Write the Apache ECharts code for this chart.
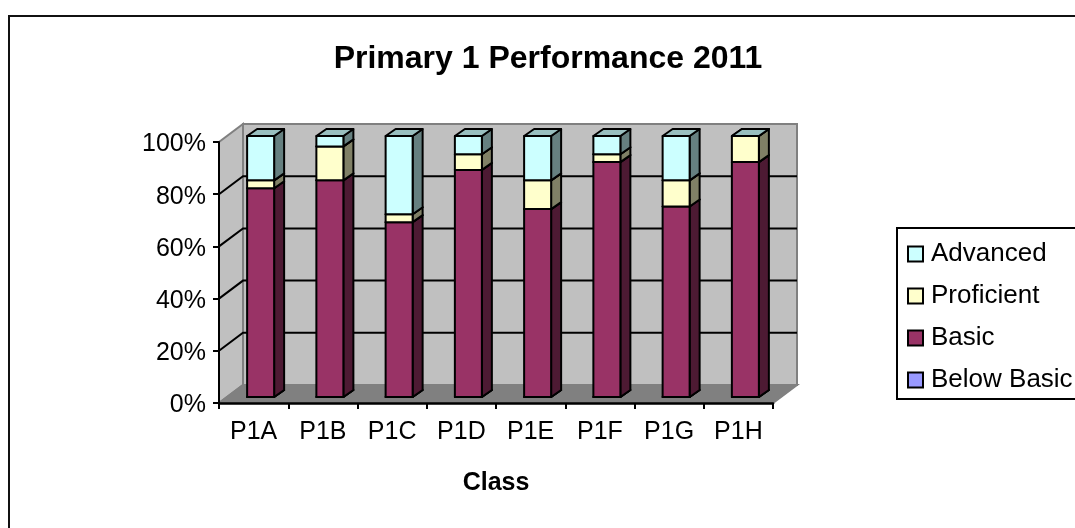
<!DOCTYPE html>
<html>
<head>
<meta charset="utf-8">
<style>html,body{margin:0;padding:0;background:#fff}#c{width:1075px;height:528px}</style>
<script src="https://cdn.jsdelivr.net/npm/echarts@6/dist/echarts.min.js"></script>
</head>
<body>
<div id="c"></div>
<script>
var categories = ['P1A','P1B','P1C','P1D','P1E','P1F','P1G','P1H'];
var belowBasic = [0,0,0,0,0,0,0,0];
var basic      = [80,83,67,87,72,90,73,90];
var proficient = [3,13,3,6,11,3,10,10];
var advanced   = [17,4,30,7,17,7,17,0];
var gridTicks  = [20,40,60,80];
var FONT = '"Liberation Sans", Arial, sans-serif';
var WALL = [24,-18], FRONT = [7,-6], DEPTH = [10,-7], BAR_RATIO = 0.39;

var chart = echarts.init(document.getElementById('c'), null, {renderer:'canvas'});

function shade(a, b, c, d, fill) {
  return {type:'polygon', shape:{points:[a,b,c,d]},
    style:{fill:fill, stroke:'#000', lineWidth:2, lineJoin:'round'}};
}
function stackRows(values, below) {
  return values.map(function(v,i){
    var base = 0;
    below.forEach(function(s){ base += s[i]; });
    return [i, base, base + v];
  });
}
function barRenderer(front, side, top) {
  return function(params, api) {
    var i = api.value(0);
    var p0 = api.coord([i, api.value(1)]);
    var p1 = api.coord([i, api.value(2)]);
    var w = api.size([1,0])[0] * BAR_RATIO;
    var x0 = p0[0] + FRONT[0] - w/2, x1 = x0 + w;
    var yb = p0[1] + FRONT[1], yt = p1[1] + FRONT[1];
    return {type:'group', children:[
      shade([x1,yb],[x1+DEPTH[0],yb+DEPTH[1]],[x1+DEPTH[0],yt+DEPTH[1]],[x1,yt], side),
      shade([x0,yt],[x1,yt],[x1+DEPTH[0],yt+DEPTH[1]],[x0+DEPTH[0],yt+DEPTH[1]], top),
      shade([x0,yb],[x1,yb],[x1,yt],[x0,yt], front)
    ]};
  };
}
function barSeries(name, rows, front, side, top) {
  return {name:name, type:'custom', z:3, clip:false, data:rows,
    encode:{x:0, y:[1,2]},
    itemStyle:{color:front, borderColor:'#000', borderWidth:2},
    renderItem:barRenderer(front, side, top)};
}
function wallRenderer(params, api) {
  var c = params.coordSys;
  var L = c.x, R = c.x + c.width, T = c.y, B = c.y + c.height;
  var dx = WALL[0], dy = WALL[1];
  var edge = {stroke:'#808080', lineWidth:2, lineJoin:'miter'};
  var kids = [
    {type:'polygon', shape:{points:[[L+dx,T+dy],[R+dx,T+dy],[R+dx,B+dy],[L+dx,B+dy]]},
      style:Object.assign({fill:'#C0C0C0'}, edge)},
    {type:'polygon', shape:{points:[[L,B],[L,T],[L+dx,T+dy],[L+dx,B+dy]]},
      style:Object.assign({fill:'#C0C0C0'}, edge)},
    {type:'polygon', shape:{points:[[L,B],[R,B],[R+dx,B+dy],[L+dx,B+dy]]},
      style:Object.assign({fill:'#808080'}, edge)}
  ];
  gridTicks.forEach(function(t){
    var y = api.coord([0,t])[1];
    kids.push({type:'polyline', shape:{points:[[L,y],[L+dx,y+dy],[R+dx,y+dy]]},
      style:{fill:null, stroke:'#000', lineWidth:2}});
  });
  return {type:'group', children:kids};
}

var b0 = stackRows(belowBasic, []);
var b1 = stackRows(basic, [belowBasic]);
var b2 = stackRows(proficient, [belowBasic, basic]);
var b3 = stackRows(advanced, [belowBasic, basic, proficient]);

chart.setOption({
  animation:false,
  backgroundColor:'#fff',
  textStyle:{fontFamily:FONT},
  title:{text:'Primary 1 Performance 2011', left:543, top:38, textAlign:'center',
    textStyle:{fontFamily:FONT, fontSize:32, fontWeight:'bold', color:'#000', lineHeight:32}},
  grid:{left:219, top:142, width:554, height:261},
  legend:{
    orient:'vertical', left:897, top:228, padding:[13,10,6,10], itemGap:16,
    itemWidth:15, itemHeight:15, itemStyle:{borderColor:'#000', borderWidth:2},
    icon:'rect', backgroundColor:'#fff', borderColor:'#000', borderWidth:2, borderRadius:0,
    textStyle:{fontFamily:FONT, fontSize:26, color:'#000', padding:[0,0,0,3]},
    data:['Advanced','Proficient','Basic','Below Basic']
  },
  xAxis:{type:'category', data:categories, z:5,
    axisLine:{lineStyle:{color:'#000', width:2.5}},
    axisTick:{show:true, alignWithLabel:false, length:6, lineStyle:{color:'#000', width:2}},
    axisLabel:{color:'#000', fontFamily:FONT, fontSize:25, margin:17, interval:0},
    splitLine:{show:false},
    name:'Class', nameLocation:'middle', nameGap:68,
    nameTextStyle:{color:'#000', fontFamily:FONT, fontSize:25, fontWeight:'bold'}},
  yAxis:{type:'value', min:0, max:100, interval:20, z:5,
    axisLine:{show:true, lineStyle:{color:'#000', width:2}},
    axisTick:{show:true, length:6, lineStyle:{color:'#000', width:2}},
    axisLabel:{color:'#000', fontFamily:FONT, fontSize:25, margin:13, verticalAlign:'top', lineHeight:5, formatter:'{value}%'},
    splitLine:{show:false}},
  graphic:[{type:'polyline', silent:true, z:-1,
    shape:{points:[[9,528],[9,16],[1075,16]]},
    style:{fill:null, stroke:'#111', lineWidth:2}}],
  series:[
    {type:'custom', name:'walls', z:1, clip:false, silent:true, data:[[0,0]],
      renderItem:wallRenderer},
    barSeries('Below Basic', b0, '#9999FF', '#4D4D80', '#7373BF'),
    barSeries('Basic', b1, '#993366', '#4D1A33', '#732650'),
    barSeries('Proficient', b2, '#FFFFCC', '#808066', '#BFBF99'),
    barSeries('Advanced', b3, '#CCFFFF', '#668080', '#99BFBF')
  ]
});
</script>
</body>
</html>
